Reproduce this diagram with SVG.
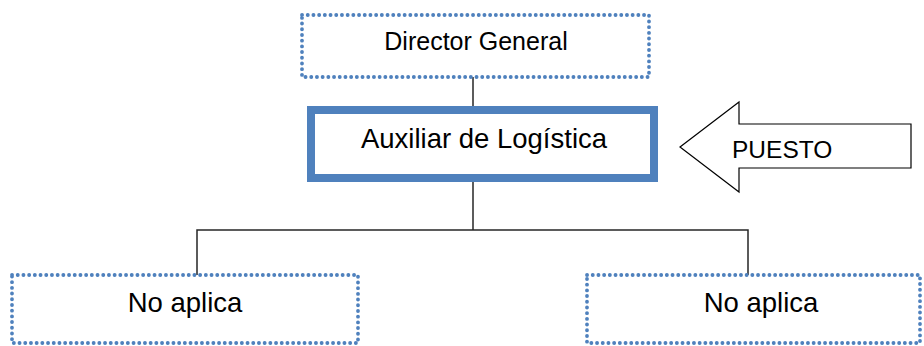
<svg xmlns="http://www.w3.org/2000/svg" width="924" height="346" viewBox="0 0 924 346">
<style>
.dot{fill:#fff;stroke:#4f81bd;stroke-width:3.8;stroke-dasharray:0.1 5.6;stroke-linecap:round}
.t{font-family:"Liberation Sans",Arial,sans-serif;fill:#000;text-anchor:middle}
.c{fill:none;stroke:#262626;stroke-width:1.5}
</style>
<rect width="924" height="346" fill="#fff"/>
<g id="connectors">
<line class="c" x1="473" y1="77" x2="473" y2="106"/>
<polyline class="c" points="473,182 473,230"/>
<polyline class="c" points="197,275 197,230 748,230 748,275"/>
</g>
<g id="director">
<rect class="dot" x="302" y="15" width="347" height="62"/>
<text class="t" x="476" y="50" font-size="25">Director General</text>
</g>
<g id="auxiliar">
<rect x="311" y="110" width="343" height="68" fill="#fff" stroke="#4f81bd" stroke-width="8"/>
<text class="t" x="484" y="148" font-size="27.5">Auxiliar de Logística</text>
</g>
<g id="puesto">
<polygon points="680,147 739,102 739,124 911,124 911,168 739,168 739,192" fill="#fff" stroke="#000" stroke-width="1.2"/>
<text x="732" y="158" font-family="Liberation Sans,Arial,sans-serif" font-size="24.5" fill="#000">PUESTO</text>
</g>
<g id="noaplica1">
<rect class="dot" x="12" y="275" width="346" height="68"/>
<text class="t" x="185" y="312" font-size="27.5">No aplica</text>
</g>
<g id="noaplica2">
<rect class="dot" x="587" y="275" width="333" height="68"/>
<text class="t" x="761" y="312" font-size="27.5">No aplica</text>
</g>
</svg>
